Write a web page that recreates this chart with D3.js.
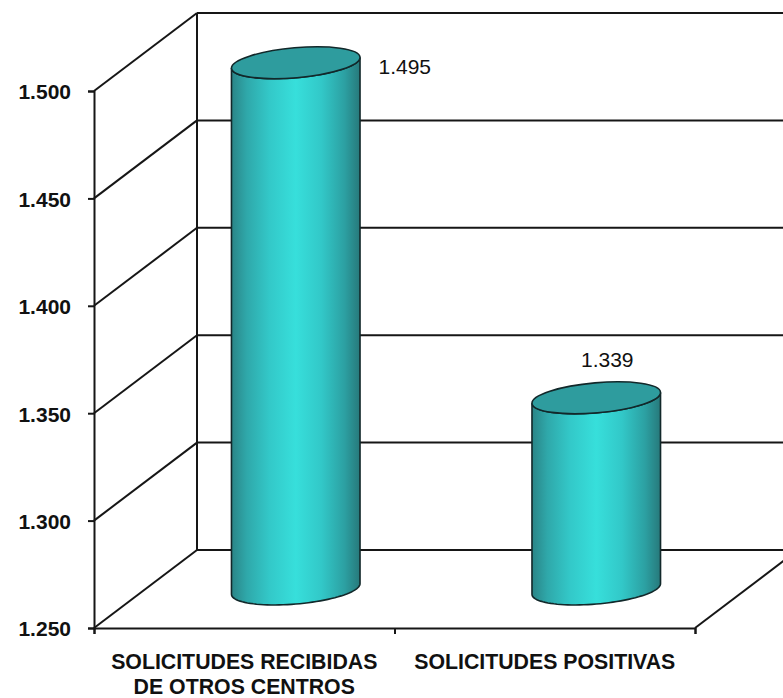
<!DOCTYPE html>
<html><head><meta charset="utf-8">
<script src="https://cdn.jsdelivr.net/npm/d3@7"></script>
<style>html,body{margin:0;padding:0;background:#fff}svg{display:block}text{font-family:"Liberation Sans",Arial,sans-serif;fill:#111}</style>
</head><body><div id="chart"></div>
<script>
const categories = [["SOLICITUDES RECIBIDAS","DE OTROS CENTROS"],["SOLICITUDES POSITIVAS"]];
const values = [1495, 1339];
const yTicks = [1250,1300,1350,1400,1450,1500];

const W=783,H=698;
const depthX=103, depthY=-78;
const svg=d3.select("#chart").append("svg").attr("width",W).attr("height",H);
const y=d3.scaleLinear().domain([1250,1500]).range([628,91]);
const x=d3.scaleBand().domain(d3.range(categories.length)).range([94,695]);
const fmt=d3.formatLocale({decimal:",",thousands:".",grouping:[3],currency:["",""]}).format(",d");
const ink="#161616";

const defs=svg.append("defs");
const g=defs.append("linearGradient").attr("id","body").attr("x1","0").attr("x2","1").attr("y1","0").attr("y2","0");
[[0,"#2a8587"],[0.12,"#2fa8aa"],[0.3,"#33c9c9"],[0.5,"#37dfdb"],[0.7,"#32c8c8"],[0.88,"#2ca0a2"],[1,"#27797b"]]
 .forEach(s=>g.append("stop").attr("offset",s[0]).attr("stop-color",s[1]));

// walls
const grid=svg.append("g").attr("stroke",ink).attr("stroke-width",2).attr("fill","none");
yTicks.forEach(t=>{
  grid.append("line").attr("x1",x.range()[0]).attr("y1",y(t)).attr("x2",x.range()[0]+depthX).attr("y2",y(t)+depthY);
  grid.append("line").attr("x1",x.range()[0]+depthX).attr("y1",y(t)+depthY).attr("x2",W+5).attr("y2",y(t)+depthY);
});
grid.append("line").attr("x1",x.range()[0]+depthX).attr("x2",x.range()[0]+depthX).attr("y1",y(1500)+depthY).attr("y2",y(1250)+depthY);
grid.append("line").attr("x1",x.range()[1]).attr("y1",y(1250)).attr("x2",x.range()[1]+depthX).attr("y2",y(1250)+depthY);

// axes
const axL=d3.axisLeft(y).tickValues(yTicks).tickSize(6).tickPadding(17).tickFormat(fmt);
const axB=d3.axisBottom(d3.scaleLinear().domain([0,2]).range(x.range())).ticks(2).tickSize(6).tickFormat("");
const gl=svg.append("g").attr("transform",`translate(${x.range()[0]},0)`).call(axL);
const gb=svg.append("g").attr("transform",`translate(0,${y(1250)})`).call(axB);
[gl,gb].forEach(ax=>{ax.selectAll("path").attr("stroke",ink).attr("stroke-width",2);ax.selectAll("line").attr("stroke",ink).attr("stroke-width",2);});
gl.selectAll("text").attr("font-size",21).attr("font-weight","bold").attr("fill",ink).style("font-family",'"Liberation Sans"').attr("dy","0.38em");

// cylinders
const rx=64.5,ry=15,rot=-5;
const rad=rot*Math.PI/180;
const ex=t=>rx*Math.cos(t)*Math.cos(rad)-ry*Math.sin(t)*Math.sin(rad);
const ey=t=>rx*Math.cos(t)*Math.sin(rad)+ry*Math.sin(t)*Math.cos(rad);
const t0=Math.atan2(-ry*Math.sin(rad),rx*Math.cos(rad)); // right-most point of the rim
const n=48;
const ts=d3.range(n+1).map(k=>t0+Math.PI*k/n);   // lower half, right to left
const line=d3.line();
const bars=svg.append("g").selectAll("g").data(values).join("g");
bars.each(function(v,i){
  const s=d3.select(this);
  const cx=x(i)+x.bandwidth()/2+depthX/2;
  const yT=y(v)+depthY/2, yB=y(1250)+depthY/2;
  const lower=ts.map(t=>[cx+ex(t),yB+ey(t)]);
  const upper=ts.map(t=>[cx+ex(t),yT+ey(t)]).reverse();
  s.append("path").attr("d",line(lower.concat(upper))+"Z")
   .attr("fill","url(#body)").attr("stroke","#12282a").attr("stroke-width",1.6);
  s.append("ellipse").attr("cx",0).attr("cy",0).attr("rx",rx).attr("ry",ry)
   .attr("transform",`translate(${cx},${yT}) rotate(${rot})`)
   .attr("fill","#2e9c9e").attr("stroke","#12282a").attr("stroke-width",1.6);
});

// data labels
const labelDX=[109,11], labelDY=[11,-31];
svg.append("g").selectAll("text").data(values).join("text")
  .attr("x",(v,i)=>x(i)+x.bandwidth()/2+depthX/2+labelDX[i])
  .attr("y",(v,i)=>y(v)+depthY/2+labelDY[i])
  .attr("text-anchor","middle").attr("font-size",21).text(v=>fmt(v));

// category labels
const cat=svg.append("g").selectAll("text").data(categories).join("text")
  .attr("text-anchor","middle").attr("font-size",21.3).attr("font-weight","bold");
cat.each(function(lines,i){
  d3.select(this).selectAll("tspan").data(lines).join("tspan")
    .attr("x",x(i)+x.bandwidth()/2).attr("y",(d,j)=>669+j*25).text(d=>d);
});
</script></body></html>
